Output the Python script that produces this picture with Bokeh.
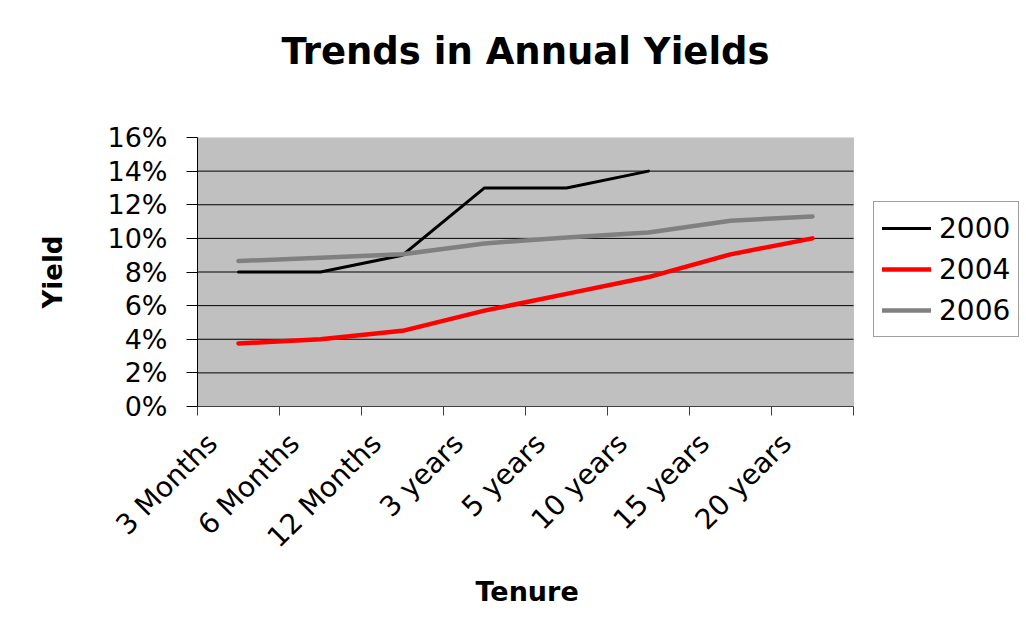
import math
from bokeh.plotting import figure
from bokeh.models import (FixedTicker, PrintfTickFormatter, Legend, LegendItem,
                          Range1d, LinearAxis, CustomJSTickFormatter, BoxAnnotation, Title)
from bokeh.embed import file_html
from bokeh.resources import INLINE

# ---- data ----
categories = ["3 Months", "6 Months", "12 Months", "3 years", "5 years",
              "10 years", "15 years", "20 years"]
yield_2000 = [8.0, 8.0, 9.0, 13.0, 13.0, 14.0]
yield_2004 = [3.75, 4.0, 4.5, 5.7, 6.7, 7.7, 9.05, 10.0]
yield_2006 = [8.65, 8.85, 9.05, 9.7, 10.05, 10.35, 11.05, 11.3]
y_ticks = [0, 2, 4, 6, 8, 10, 12, 14, 16]
series_names = ["2000", "2004", "2006"]

n = len(categories)
xc = [i + 0.5 for i in range(n)]

# layout (pixels)
W, H = 1026, 631
PL, PR, PT, PB = 197, 853, 137, 406      # plot area edges
x_end = n * (W - PL) / (PR - PL)          # frame spans to the right edge (room for legend)

p = figure(width=W, height=H, output_backend="svg", toolbar_location=None,
           x_range=Range1d(0, x_end), y_range=Range1d(0, 16), x_axis_location=None,
           min_border_left=PL, min_border_right=0,
           min_border_top=PT, min_border_bottom=H - PB)
p.background_fill_color = "white"
p.border_fill_color = "white"
p.outline_line_color = None

# plot area (grey) and gridlines limited to the category span
p.add_layout(BoxAnnotation(left=0, right=n, bottom=0, top=16, fill_color="#C0C0C0",
                           fill_alpha=1, line_color="#808080", line_width=1,
                           level="underlay"))
p.xgrid.visible = False
p.ygrid.visible = False
grid_y = y_ticks[1:-1]
p.segment(x0=[0] * len(grid_y), x1=[n] * len(grid_y), y0=grid_y, y1=grid_y,
          line_color="black", line_width=1)

# title
p.title.text = "Trends in Annual Yields"
p.title.align = "left"
p.title.offset = 84
p.title.text_font = "DejaVu Sans"
p.title.text_font_style = "bold"
p.title.text_font_size = "37px"
p.title.text_color = "black"
p.title.standoff = 10
p.title.padding = (0, 0, 0, 60)

# y axis
p.yaxis.ticker = FixedTicker(ticks=y_ticks)
p.yaxis.formatter = PrintfTickFormatter(format="%d%%")
p.yaxis.major_label_text_font = "DejaVu Sans"
p.yaxis.major_label_text_font_size = "27px"
p.yaxis.major_label_text_color = "black"
p.yaxis.major_tick_out = 11
p.yaxis.major_tick_in = 0
p.yaxis.minor_tick_out = 0
p.yaxis.minor_tick_in = 0
p.yaxis.major_label_standoff = 19
p.yaxis.axis_line_color = "black"
p.yaxis.major_tick_line_color = "black"
p.yaxis.axis_label = "Yield"
p.yaxis.axis_label_text_font = "DejaVu Sans"
p.yaxis.axis_label_text_font_style = "bold"
p.yaxis.axis_label_text_font_size = "26px"
p.yaxis.axis_label_text_color = "black"
p.yaxis.axis_label_standoff = 36

# x axis: labels (major, shifted left like the original), ticks at category boundaries (minor)
shift = 0.32
xaxis = LinearAxis(
    ticker=FixedTicker(ticks=[c - shift for c in xc], minor_ticks=list(range(n + 1))),
    formatter=CustomJSTickFormatter(args=dict(cats=categories),
                                    code="return cats[Math.floor(tick)]"),
    bounds=(0, n),
)
xaxis.major_tick_out = 0
xaxis.major_tick_in = 0
xaxis.minor_tick_out = 9
xaxis.minor_tick_in = 0
xaxis.minor_tick_line_color = "#404040"
xaxis.axis_line_color = "#404040"
xaxis.major_label_orientation = math.pi / 4
xaxis.major_label_standoff = 23
xaxis.major_label_text_font = "DejaVu Sans"
xaxis.major_label_text_font_size = "28px"
xaxis.major_label_text_color = "black"
p.add_layout(xaxis, "below")

xtitle = Title(text="Tenure", align="left", offset=278, standoff=10,
               text_font="DejaVu Sans", text_font_style="bold", text_font_size="27px",
               text_color="black")
p.add_layout(xtitle, "below")

# lines
r0 = p.line(xc[:len(yield_2000)], yield_2000, line_color="black", line_width=3,
            line_join="round", line_cap="round")
r1 = p.line(xc, yield_2004, line_color="#FF0000", line_width=4.5,
            line_join="round", line_cap="round")
r2 = p.line(xc, yield_2006, line_color="#808080", line_width=4.5,
            line_join="round", line_cap="round")

legend = Legend(items=[LegendItem(label=series_names[0], renderers=[r0]),
                       LegendItem(label=series_names[1], renderers=[r1]),
                       LegendItem(label=series_names[2], renderers=[r2])],
                location=(873 - PL, PB - 337))
legend.label_text_font = "DejaVu Sans"
legend.label_text_font_size = "28px"
legend.label_text_color = "black"
legend.glyph_width = 49
legend.glyph_height = 36
legend.label_height = 36
legend.label_standoff = 8
legend.spacing = 5
legend.padding = 8
legend.margin = 0
legend.border_line_color = "#404040"
legend.border_line_width = 1
legend.background_fill_color = "white"
legend.background_fill_alpha = 1
p.add_layout(legend, "center")

open("out.html", "w").write(file_html(p, INLINE))
